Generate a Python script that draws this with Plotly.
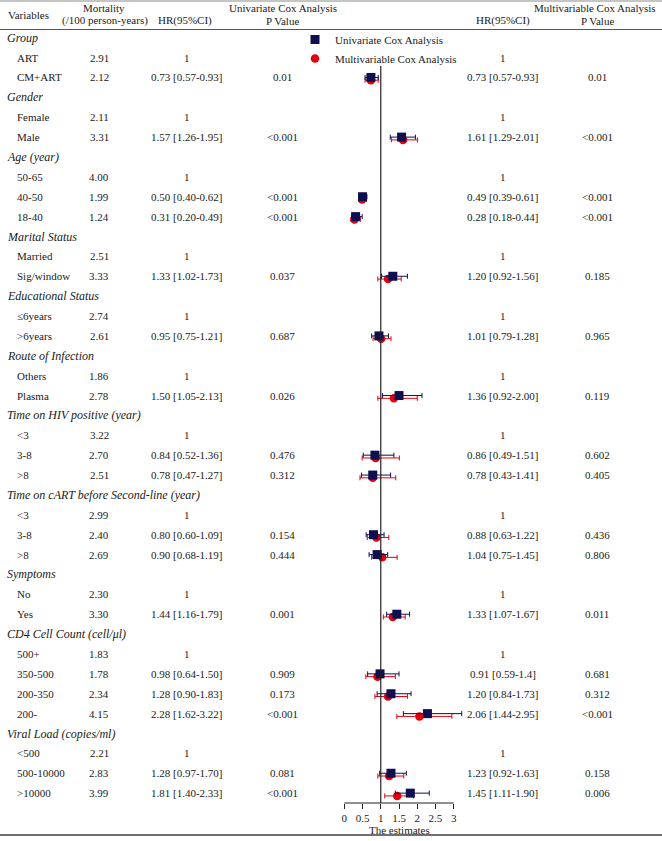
import plotly.graph_objects as go

# ---- data ----
groups = [
    "Group", "Gender", "Age (year)", "Marital Status", "Educational Status",
    "Route of Infection", "Time on HIV positive (year)",
    "Time on cART before Second-line (year)", "Symptoms",
    "CD4 Cell Count (cell/μl)", "Viral Load (copies/ml)",
]
group_levels = [
    ["ART", "CM+ART"],
    ["Female", "Male"],
    ["50-65", "40-50", "18-40"],
    ["Married", "Sig/window"],
    ["≤6years", ">6years"],
    ["Others", "Plasma"],
    ["<3", "3-8", ">8"],
    ["<3", "3-8", ">8"],
    ["No", "Yes"],
    ["500+", "350-500", "200-350", "200-"],
    ["<500", "500-10000", ">10000"],
]
mortality = [
    ["2.91", "2.12"], ["2.11", "3.31"], ["4.00", "1.99", "1.24"],
    ["2.51", "3.33"], ["2.74", "2.61"], ["1.86", "2.78"],
    ["3.22", "2.70", "2.51"], ["2.99", "2.40", "2.69"], ["2.30", "3.30"],
    ["1.83", "1.78", "2.34", "4.15"], ["2.21", "2.83", "3.99"],
]
# None = reference level
uni_hr = [
    [None, 0.73], [None, 1.57], [None, 0.50, 0.31], [None, 1.33], [None, 0.95],
    [None, 1.50], [None, 0.84, 0.78], [None, 0.80, 0.90], [None, 1.44],
    [None, 0.98, 1.28, 2.28], [None, 1.28, 1.81],
]
uni_lo = [
    [None, 0.57], [None, 1.26], [None, 0.40, 0.20], [None, 1.02], [None, 0.75],
    [None, 1.05], [None, 0.52, 0.47], [None, 0.60, 0.68], [None, 1.16],
    [None, 0.64, 0.90, 1.62], [None, 0.97, 1.40],
]
uni_hi = [
    [None, 0.93], [None, 1.95], [None, 0.62, 0.49], [None, 1.73], [None, 1.21],
    [None, 2.13], [None, 1.36, 1.27], [None, 1.09, 1.19], [None, 1.79],
    [None, 1.50, 1.83, 3.22], [None, 1.70, 2.33],
]
uni_p = [
    [None, "0.01"], [None, "<0.001"], [None, "<0.001", "<0.001"], [None, "0.037"],
    [None, "0.687"], [None, "0.026"], [None, "0.476", "0.312"], [None, "0.154", "0.444"],
    [None, "0.001"], [None, "0.909", "0.173", "<0.001"], [None, "0.081", "<0.001"],
]
multi_hr = [
    [None, 0.73], [None, 1.61], [None, 0.49, 0.28], [None, 1.20], [None, 1.01],
    [None, 1.36], [None, 0.86, 0.78], [None, 0.88, 1.04], [None, 1.33],
    [None, 0.91, 1.20, 2.06], [None, 1.23, 1.45],
]
multi_lo = [
    [None, 0.57], [None, 1.29], [None, 0.39, 0.18], [None, 0.92], [None, 0.79],
    [None, 0.92], [None, 0.49, 0.43], [None, 0.63, 0.75], [None, 1.07],
    [None, 0.59, 0.84, 1.44], [None, 0.92, 1.11],
]
multi_hi = [
    [None, 0.93], [None, 2.01], [None, 0.61, 0.44], [None, 1.56], [None, 1.28],
    [None, 2.00], [None, 1.51, 1.41], [None, 1.22, 1.45], [None, 1.67],
    [None, 1.4, 1.73, 2.95], [None, 1.63, 1.90],
]
multi_p = [
    [None, "0.01"], [None, "<0.001"], [None, "<0.001", "<0.001"], [None, "0.185"],
    [None, "0.965"], [None, "0.119"], [None, "0.602", "0.405"], [None, "0.436", "0.806"],
    [None, "0.011"], [None, "0.681", "0.312", "<0.001"], [None, "0.158", "0.006"],
]
hr_fmt = {  # CI text as printed
    "uni": [
        [None, "0.73 [0.57-0.93]"], [None, "1.57 [1.26-1.95]"],
        [None, "0.50 [0.40-0.62]", "0.31 [0.20-0.49]"], [None, "1.33 [1.02-1.73]"],
        [None, "0.95 [0.75-1.21]"], [None, "1.50 [1.05-2.13]"],
        [None, "0.84 [0.52-1.36]", "0.78 [0.47-1.27]"],
        [None, "0.80 [0.60-1.09]", "0.90 [0.68-1.19]"], [None, "1.44 [1.16-1.79]"],
        [None, "0.98 [0.64-1.50]", "1.28 [0.90-1.83]", "2.28 [1.62-3.22]"],
        [None, "1.28 [0.97-1.70]", "1.81 [1.40-2.33]"],
    ],
    "multi": [
        [None, "0.73 [0.57-0.93]"], [None, "1.61 [1.29-2.01]"],
        [None, "0.49 [0.39-0.61]", "0.28 [0.18-0.44]"], [None, "1.20 [0.92-1.56]"],
        [None, "1.01 [0.79-1.28]"], [None, "1.36 [0.92-2.00]"],
        [None, "0.86 [0.49-1.51]", "0.78 [0.43-1.41]"],
        [None, "0.88 [0.63-1.22]", "1.04 [0.75-1.45]"], [None, "1.33 [1.07-1.67]"],
        [None, "0.91 [0.59-1.4]", "1.20 [0.84-1.73]", "2.06 [1.44-2.95]"],
        [None, "1.23 [0.92-1.63]", "1.45 [1.11-1.90]"],
    ],
}

# ---- geometry ----
W, H = 662, 841
ROW0, ROWH = 37.7, 19.88          # pixel centre of first row, row pitch
X0, XU = 344.3, 36.47             # pixel of estimate 0, pixels per unit
FONT = "Liberation Serif"
TXT = "#1a1a1a"
NAVY = "#0f0f4f"
RED = "#e3000f"


def px2row(p):
    return (p - ROW0) / ROWH


def pyp(p):
    return 1 - p / H


def pxp(p):
    return p / W


# flatten into rows
rows = []
r = 0
for gi, g in enumerate(groups):
    rows.append(dict(kind="group", label=g, row=r))
    r += 1
    for li, lv in enumerate(group_levels[gi]):
        rows.append(dict(
            kind="level", label=lv, row=r, mort=mortality[gi][li],
            uhr=uni_hr[gi][li], ulo=uni_lo[gi][li], uhi=uni_hi[gi][li],
            up=uni_p[gi][li], utxt=hr_fmt["uni"][gi][li],
            mhr=multi_hr[gi][li], mlo=multi_lo[gi][li], mhi=multi_hi[gi][li],
            mp=multi_p[gi][li], mtxt=hr_fmt["multi"][gi][li],
        ))
        r += 1

est = [d for d in rows if d["kind"] == "level" and d["uhr"] is not None]

fig = go.Figure()
fig.add_trace(go.Scatter(
    x=[d["mhr"] for d in est],
    y=[d["row"] + 0.14 for d in est],
    mode="markers",
    marker=dict(symbol="circle", size=8.5, color=RED),
    error_x=dict(type="data", symmetric=False,
                 array=[d["mhi"] - d["mhr"] for d in est],
                 arrayminus=[d["mhr"] - d["mlo"] for d in est],
                 color=RED, thickness=1, width=2.5),
    name="Multivariable Cox Analysis",
))
fig.add_trace(go.Scatter(
    x=[d["uhr"] for d in est],
    y=[d["row"] for d in est],
    mode="markers",
    marker=dict(symbol="square", size=9, color=NAVY),
    error_x=dict(type="data", symmetric=False,
                 array=[d["uhi"] - d["uhr"] for d in est],
                 arrayminus=[d["uhr"] - d["ulo"] for d in est],
                 color=NAVY, thickness=1, width=2.5),
    name="Univariate Cox Analysis",
))

ann = []


def add_text(x, y, text, anchor="center", yref="y", italic=False, size=11):
    if italic:
        text = f"<i>{text}</i>"
    ann.append(dict(x=pxp(x), xref="paper", y=y, yref=yref, text=text,
                    xanchor=anchor, yanchor="middle", showarrow=False,
                    font=dict(family=FONT, size=size, color=TXT)))


for d in rows:
    if d["kind"] == "group":
        add_text(5, d["row"], d["label"], "left", italic=True, size=12)
        continue
    add_text(15, d["row"], d["label"], "left")
    add_text(99, d["row"], d["mort"])
    if d["uhr"] is None:
        add_text(187, d["row"], "1")
        add_text(503, d["row"], "1")
    else:
        add_text(187, d["row"], d["utxt"])
        add_text(282, d["row"], d["up"])
        add_text(503, d["row"], d["mtxt"])
        add_text(597, d["row"], d["mp"])

# header
add_text(6, pyp(15), "Variables", "left", yref="paper")
add_text(104, pyp(8), "Mortality", yref="paper")
add_text(105, pyp(21), "(/100 person-years)", yref="paper")
add_text(185, pyp(21), "HR(95%CI)", yref="paper")
add_text(283, pyp(8), "Univariate Cox Analysis", yref="paper")
add_text(282, pyp(21), "P Value", yref="paper")
add_text(658, pyp(8), "Multivariable Cox Analysis", "right", yref="paper")
add_text(503, pyp(21), "HR(95%CI)", yref="paper")
add_text(597, pyp(21), "P Value", yref="paper")
ann.append(dict(x=1.5, xref="x", y=pyp(830), yref="paper", text="The estimates",
                showarrow=False, xanchor="center", yanchor="middle",
                font=dict(family=FONT, size=11, color=TXT)))

axis_row = px2row(803)
shapes = [
    dict(type="line", xref="paper", yref="paper", x0=0, x1=1, y0=pyp(1), y1=pyp(1),
         line=dict(color="#8a8a8a", width=1)),
    dict(type="line", xref="paper", yref="paper", x0=0, x1=1, y0=pyp(29.5), y1=pyp(29.5),
         line=dict(color="#555555", width=1)),
    dict(type="line", xref="paper", yref="paper", x0=0, x1=1, y0=pyp(835), y1=pyp(835),
         line=dict(color="#707070", width=2)),
    dict(type="line", xref="x", yref="y", x0=1, x1=1, y0=px2row(66), y1=axis_row,
         line=dict(color="#222222", width=1.2)),
    dict(type="line", xref="x", yref="y", x0=0, x1=3, y0=axis_row, y1=axis_row,
         line=dict(color="#222222", width=1.2)),
]

fig.update_layout(
    width=W, height=H,
    margin=dict(l=0, r=0, t=0, b=0, autoexpand=False),
    paper_bgcolor="white", plot_bgcolor="white",
    showlegend=True,
    legend=dict(x=pxp(295), y=pyp(25), xanchor="left", yanchor="top",
                traceorder="reversed", bgcolor="rgba(0,0,0,0)",
                font=dict(family=FONT, size=11, color=TXT), tracegroupgap=0),
    annotations=ann,
    shapes=shapes,
    xaxis=dict(range=[-X0 / XU, (W - X0) / XU], domain=[0, 1],
               anchor="free", position=pyp(803),
               tickvals=[0, 0.5, 1, 1.5, 2, 2.5, 3],
               ticktext=["0", "0.5", "1", "1.5", "2", "2.5", "3"],
               ticks="outside", ticklen=5, tickcolor="#222222",
               showline=False, showgrid=False, zeroline=False,
               tickfont=dict(family=FONT, size=11, color=TXT)),
    yaxis=dict(range=[px2row(H), px2row(0)], domain=[0, 1],
               visible=False, showgrid=False, zeroline=False),
)

fig.write_html("out.html", config={"displayModeBar": False},
               post_script="document.body.style.margin='0';")
